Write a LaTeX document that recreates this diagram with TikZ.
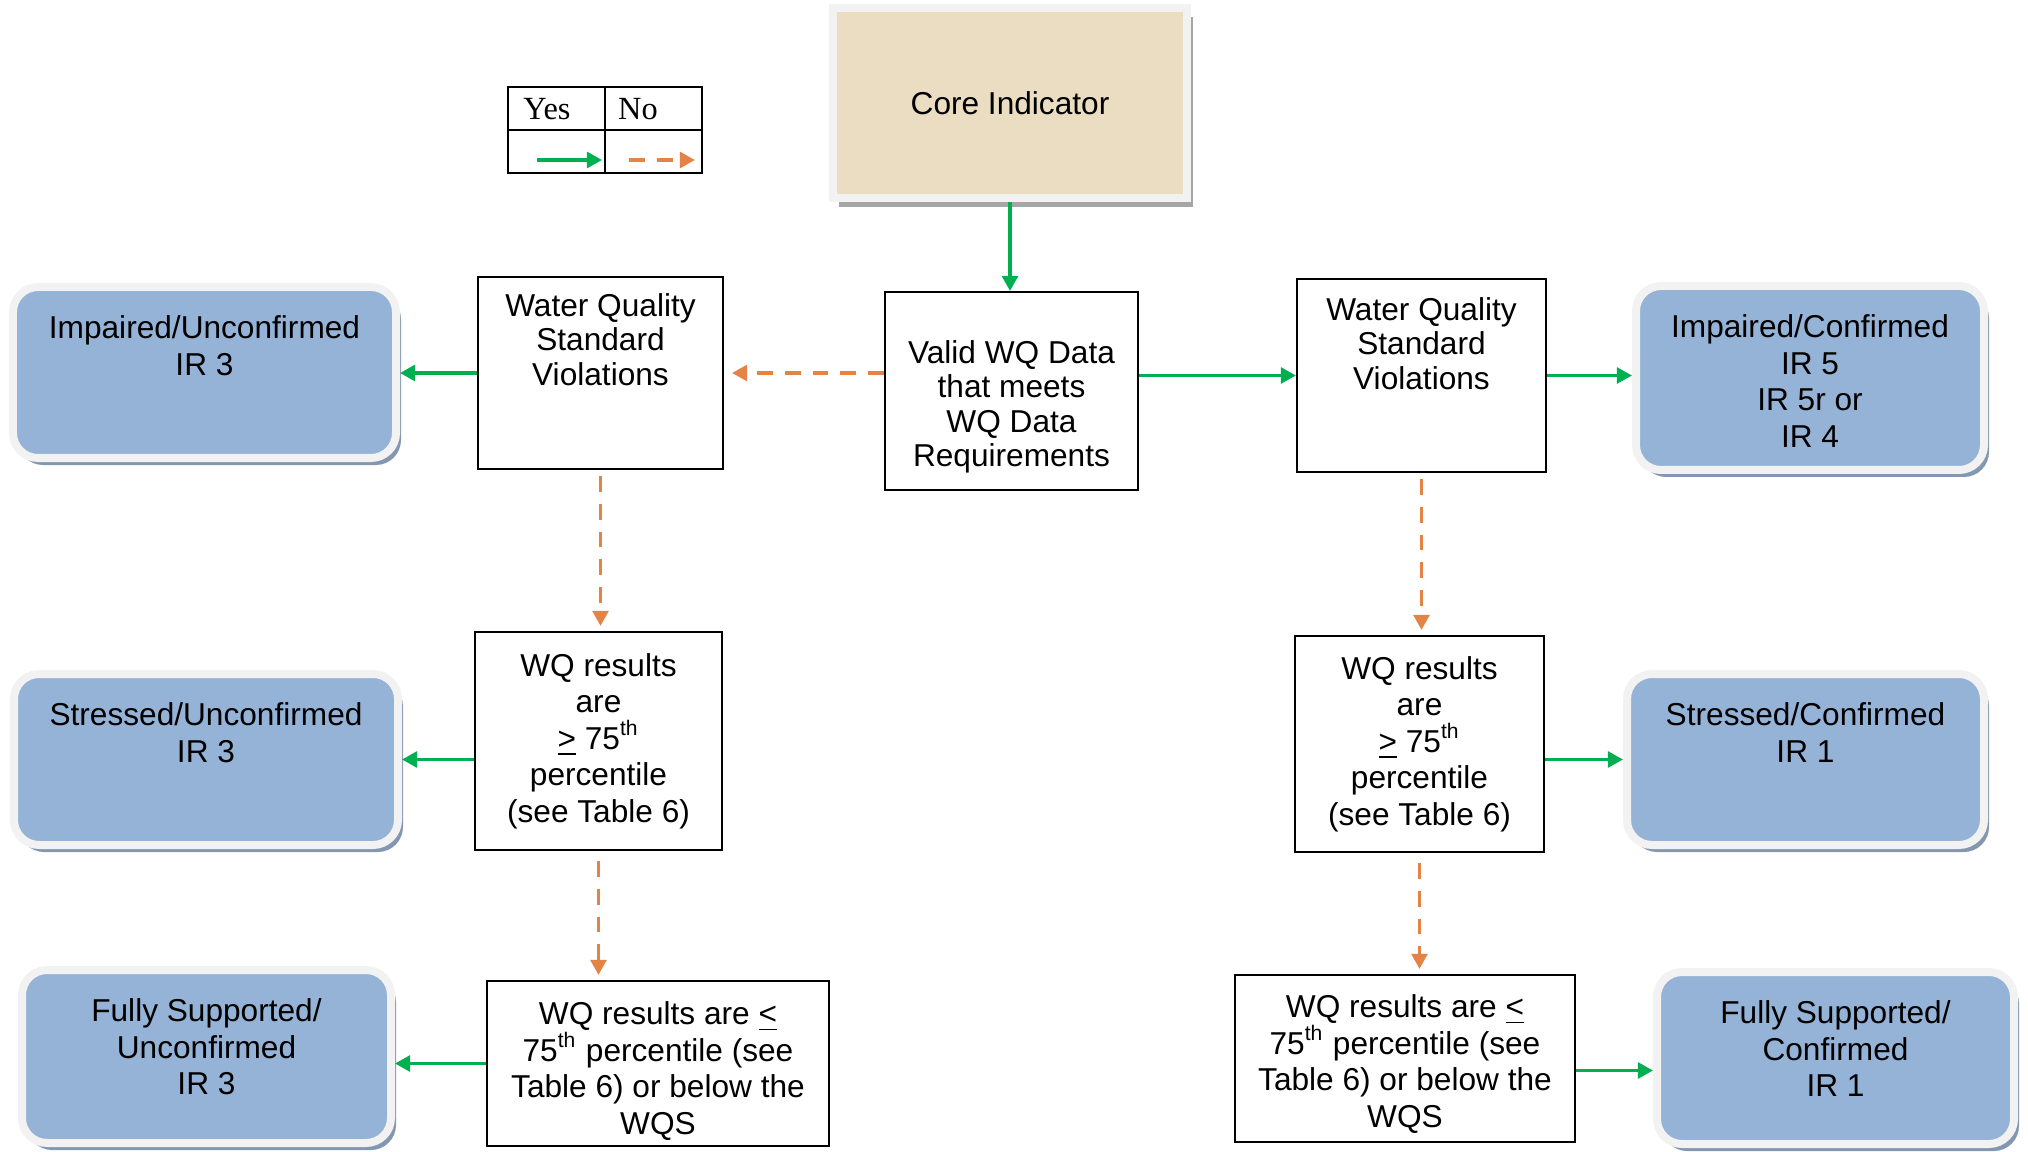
\documentclass[tikz,border=0pt]{standalone}
\usepackage{fontspec}
\setmainfont{Liberation Sans}
\newfontfamily\legendfont{Liberation Serif}
\usetikzlibrary{arrows.meta,shadows}
\definecolor{coreFill}{RGB}{234,221,193}
\definecolor{frameGray}{RGB}{242,242,242}
\definecolor{coreShadow}{RGB}{166,166,166}
\definecolor{outFill}{RGB}{149,179,215}
\definecolor{outShadow}{RGB}{132,151,176}
\definecolor{yesGreen}{RGB}{0,176,80}
\definecolor{noOrange}{RGB}{228,131,70}
\begin{document}
\begin{tikzpicture}[every node/.style={font=\fontsize{9}{10.4}\selectfont},
  box/.style={draw=black,line width=0.6pt,fill=white,inner sep=0pt},
  outcome/.style={draw=frameGray,line width=0.08cm,fill=outFill,rounded corners=0.25cm,inner sep=0pt,
    drop shadow={shadow xshift=0.05cm,shadow yshift=-0.07cm,fill=outShadow,opacity=1}},
  toptext/.style={anchor=north,align=center,inner sep=0pt,yshift=#1},
  tight/.style={font=\fontsize{9}{9.75}\selectfont},
  yes/.style={draw=yesGreen,line width=1pt,-{Triangle[length=4.3pt,width=4.5pt]}},
  no/.style={draw=noOrange,line width=1pt,dash pattern=on 4.5pt off 3.4pt,-{Triangle[length=4.3pt,width=4.5pt]}}]
\useasboundingbox (0,0) rectangle (20.28,-11.52);
% Core indicator
\node[draw=frameGray,line width=0.08cm,fill=coreFill,minimum width=3.54cm,minimum height=1.90cm,
  drop shadow={shadow xshift=0.06cm,shadow yshift=-0.09cm,fill=coreShadow,opacity=1}] (core) at (10.10,-1.03) {Core Indicator};
% Legend
\draw[line width=0.6pt] (5.08,-0.87) rectangle (7.02,-1.73);
\draw[line width=0.6pt] (6.05,-0.87) -- (6.05,-1.73) (5.08,-1.30) -- (7.02,-1.30);
\node[font=\legendfont\fontsize{9.2}{10}\selectfont] (yeslbl) at (5.47,-1.09) {Yes};
\node[font=\legendfont\fontsize{9.2}{10}\selectfont] (nolbl) at (6.38,-1.09) {No};
\coordinate (yesA) at (5.37,-1.60); \coordinate (yesB) at (6.02,-1.60);
\coordinate (noA) at (6.29,-1.60); \coordinate (noB) at (6.95,-1.60);
\draw[yes] (yesA) -- (yesB);
\draw[no] (noA) -- (noB);
% Valid data
\node[box,minimum width=2.53cm,minimum height=1.98cm,label={[toptext=-0.49cm,tight]north:{Valid WQ Data\\that meets\\WQ Data\\Requirements}}] (valid) at (10.115,-3.91) {};
% Left branch (No)
\node[box,minimum width=2.45cm,minimum height=1.92cm,label={[toptext=-0.17cm,tight]north:{Water Quality\\Standard\\Violations}}] (lwqs) at (6.005,-3.73) {};
\node[box,minimum width=2.47cm,minimum height=2.18cm,align=center] (lge) at (5.985,-7.41) {WQ results\\are\\\underline{>} 75\textsuperscript{th}\\percentile\\(see Table 6)};
\node[box,minimum width=3.42cm,minimum height=1.65cm,label={[toptext=-0.21cm]north:{WQ results are \underline{<}\\75\textsuperscript{th} percentile (see\\Table 6) or below the\\WQS}}] (lle) at (6.58,-10.635) {};
% Right branch (Yes)
\node[box,minimum width=2.49cm,minimum height=1.93cm,label={[toptext=-0.19cm,tight]north:{Water Quality\\Standard\\Violations}}] (rwqs) at (14.215,-3.755) {};
\node[box,minimum width=2.49cm,minimum height=2.16cm,align=center] (rge) at (14.195,-7.44) {WQ results\\are\\\underline{>} 75\textsuperscript{th}\\percentile\\(see Table 6)};
\node[box,minimum width=3.40cm,minimum height=1.67cm,label={[toptext=-0.20cm]north:{WQ results are \underline{<}\\75\textsuperscript{th} percentile (see\\Table 6) or below the\\WQS}}] (rle) at (14.05,-10.585) {};
% Outcomes
\node[outcome,minimum width=3.83cm,minimum height=1.71cm,label={[toptext=-0.32cm]north:{Impaired/Unconfirmed\\IR 3}}] (iu) at (2.045,-3.725) {};
\node[outcome,minimum width=3.84cm,minimum height=1.71cm,label={[toptext=-0.32cm]north:{Stressed/Unconfirmed\\IR 3}}] (su) at (2.06,-7.595) {};
\node[outcome,minimum width=3.69cm,minimum height=1.73cm,label={[toptext=-0.32cm]north:{Fully Supported/\\Unconfirmed\\IR 3}}] (fu) at (2.065,-10.565) {};
\node[outcome,minimum width=3.48cm,minimum height=1.84cm,label={[toptext=-0.32cm]north:{Impaired/Confirmed\\IR 5\\IR 5r or\\IR 4}}] (ic) at (18.10,-3.78) {};
\node[outcome,minimum width=3.57cm,minimum height=1.71cm,label={[toptext=-0.32cm]north:{Stressed/Confirmed\\IR 1}}] (sc) at (18.055,-7.595) {};
\node[outcome,minimum width=3.57cm,minimum height=1.72cm,label={[toptext=-0.32cm]north:{Fully Supported/\\Confirmed\\IR 1}}] (fc) at (18.355,-10.58) {};
% Connectors
\draw[yes] (core.south) -- (core.south |- valid.north);
\draw[no,shorten >=0.08cm] (valid.west |- lwqs.east) -- (lwqs.east);
\draw[yes] (valid.east |- rwqs.west) -- (rwqs.west);
\draw[yes] (lwqs.west) -- (lwqs.west -| iu.east);
\draw[yes] (rwqs.east) -- (rwqs.east -| ic.west);
\draw[no,shorten <=0.06cm,shorten >=0.05cm] (lwqs.south) -- (lwqs.south |- lge.north);
\draw[no,shorten <=0.06cm,shorten >=0.05cm] (rwqs.south) -- (rwqs.south |- rge.north);
\draw[yes] (lge.west |- su.east) -- (su.east);
\draw[yes] (rge.east |- sc.west) -- (sc.west);
\draw[no,shorten <=0.1cm,shorten >=0.05cm] (lge.south) -- (lge.south |- lle.north);
\draw[no,shorten <=0.1cm,shorten >=0.05cm] (rge.south) -- (rge.south |- rle.north);
\draw[yes] (lle.west) -- (lle.west -| fu.east);
\draw[yes] ([yshift=-0.12cm]rle.east) -- ([yshift=-0.12cm]rle.east -| fc.west);
\end{tikzpicture}
\end{document}
